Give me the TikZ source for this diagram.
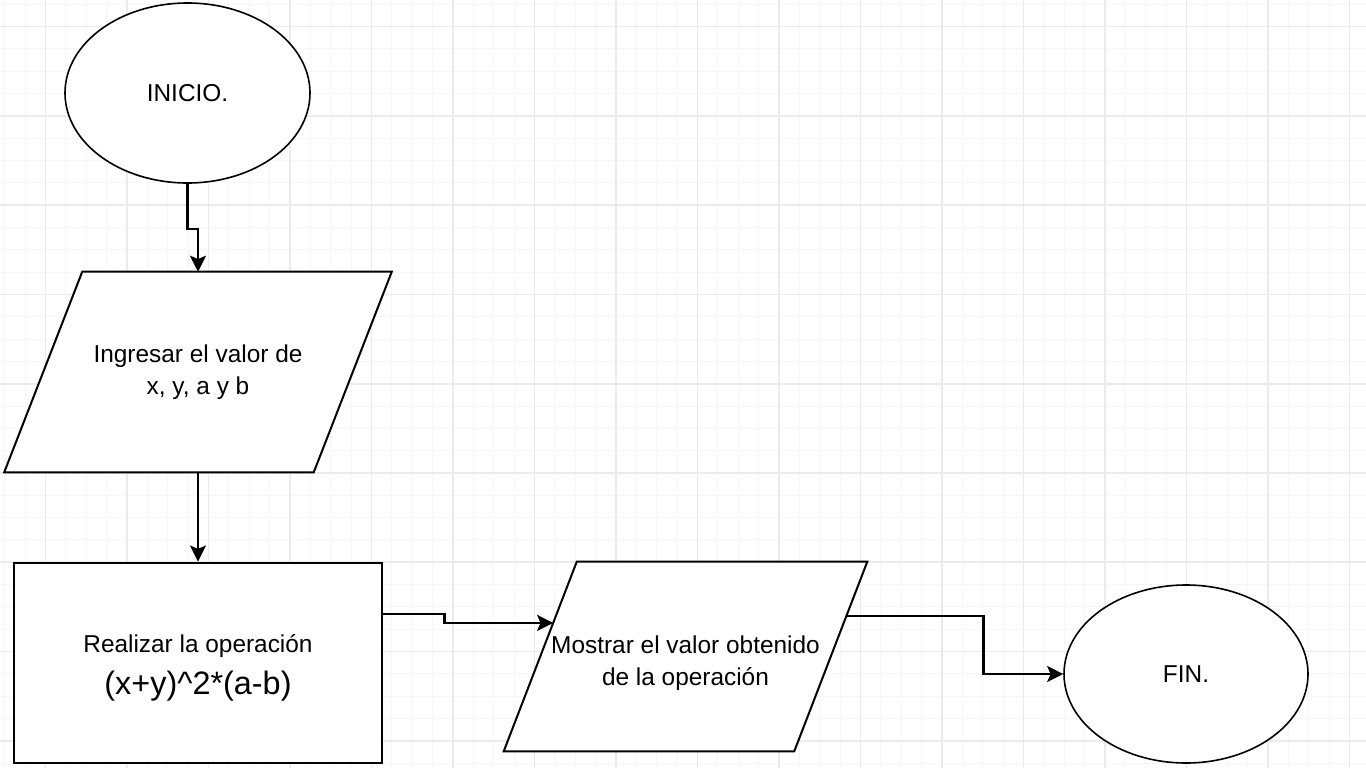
\documentclass[tikz,border=0pt]{standalone}
\usepackage{fontspec}
\setmainfont{Liberation Sans}
\usetikzlibrary{shapes.geometric,arrows.meta,calc}
\pgfdeclarelayer{gridlayer}
\pgfdeclarelayer{shapelayer}
\pgfsetlayers{gridlayer,shapelayer,main}
\definecolor{gridmajor}{HTML}{EBEBEB}
\definecolor{gridminor}{HTML}{F6F6F6}
\tikzset{
  txt/.style={font=\fontsize{18.3}{24}\selectfont, align=center, text=black},
  termbox/.style={shape=ellipse, draw=black, line width=1.2pt, fill=white, inner sep=0pt, txt},
  iobody/.style={shape=rectangle, inner sep=0pt, txt},
  ioline/.style={draw=black, line width=1.5pt, fill=white, line join=miter},
  procbox/.style={shape=rectangle, draw=black, line width=2.2pt, fill=white, inner sep=0pt, txt},
  conn/.style={draw=black, line width=1.8pt, -{Stealth[length=12pt,width=12pt,inset=2.5pt]}},
  ioshift/.style={xshift=27.375pt,yshift=4.875pt},
  ioshiftb/.style={xshift=-27.375pt,yshift=4.875pt},
}
\begin{document}
\begin{tikzpicture}[x=0.75pt,y=-0.75pt]
\useasboundingbox (0,0) rectangle (1366,768);
\begin{pgfonlayer}{gridlayer}
\fill[white] (0,0) rectangle (1366,768);
\foreach \i in {0,...,67} {\draw[gridminor, line width=0.75pt] ({4.75+20.375*\i},0) -- ({4.75+20.375*\i},768);}
\foreach \j in {0,...,34} {\draw[gridminor, line width=0.75pt] (0,{4.175+22.325*\j}) -- (1366,{4.175+22.325*\j});}
\foreach \i in {0,...,16} {\draw[gridmajor, line width=1.3pt] ({45.5+81.5*\i},0) -- ({45.5+81.5*\i},768);}
\foreach \j in {0,...,8} {\draw[gridmajor, line width=1.3pt] (0,{26.5+89.3*\j}) -- (1366,{26.5+89.3*\j});}
\end{pgfonlayer}
% nodes
\node[termbox, minimum width=183.75pt, minimum height=135pt] (start) at (187.5,93) {INICIO.};
\node[iobody, minimum width=231.75pt, minimum height=150pt] (in) at (198,372) {Ingresar el valor de\\x, y, a y b};
\node[procbox, minimum width=276pt, minimum height=150pt] (proc) at (198,663) {\rule{0pt}{21pt}Realizar la operación\\[7pt]{\fontsize{24.3}{28}\selectfont (x+y)\^{}2*(a-b)}};
\node[iobody, minimum width=217.5pt, minimum height=141.75pt] (out) at (685.5,663) {Mostrar el valor obtenido\\de la operación};
\node[termbox, minimum width=183pt, minimum height=133.5pt] (fin) at (1186,674) {FIN.};
% parallelogram outlines
\begin{pgfonlayer}{shapelayer}
\draw[ioline] ([xshift=29.25pt]in.north west) -- ([xshift=29.25pt]in.north east) -- ([xshift=-29.25pt]in.south east) -- ([xshift=-29.25pt]in.south west) -- cycle;
\draw[ioline] ([ioshift]out.north west) -- ([ioshift]out.north east) -- ([ioshiftb]out.south east) -- ([ioshiftb]out.south west) -- cycle;
\end{pgfonlayer}
\coordinate (outL) at ($([ioshift]out.north west)!0.3228!([ioshiftb]out.south west)$);
\coordinate (outR) at ($([ioshift]out.north east)!0.2857!([ioshiftb]out.south east)$);
% connectors
\draw[conn] (start.south) -- ++(0,45) -| (in.north);
\draw[conn] (in.south) -- (proc.north);
\draw[conn] ([yshift=36.75pt]proc.east) -- ++(61,0) |- (outL);
\draw[conn] (outR) -- ++(137,0) |- (fin.west);
\end{tikzpicture}
\end{document}
